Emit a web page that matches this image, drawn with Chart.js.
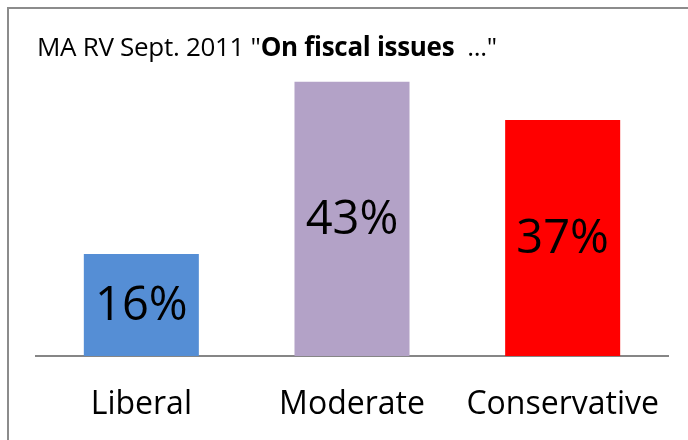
<!DOCTYPE html>
<html>
<head>
<meta charset="utf-8">
<script src="https://cdn.jsdelivr.net/npm/chart.js@4/dist/chart.umd.min.js"></script>
<style>
  html, body { margin: 0; padding: 0; background: #fff; overflow: hidden; }
  #frame {
    position: absolute; left: 7px; top: 7px; width: 700px; height: 450px;
    border-left: 2px solid #8c8c8c; border-top: 2px solid #8c8c8c;
  }
  #title {
    position: absolute; left: 37px; top: 28px;
    font-family: "Open Sans", sans-serif; font-size: 26px; color: #000;
    white-space: pre; letter-spacing: -0.3px;
  }
  #wrap { position: absolute; left: 0; top: 0; width: 688px; height: 440px; }
</style>
</head>
<body>
<div id="frame"></div>
<div id="wrap"><canvas id="chart"></canvas></div>
<div id="title">MA RV Sept. 2011 "<b>On fiscal issues  </b>..."</div>
<script>
const categories = ['Liberal', 'Moderate', 'Conservative'];
const shares = [16, 43, 37];
const barColors = ['#558ED5', '#B3A2C7', '#FF0000'];

// percentage printed in the middle of each bar
const barLabels = {
  id: 'barLabels',
  afterDatasetsDraw(chart) {
    const ctx = chart.ctx;
    const meta = chart.getDatasetMeta(0);
    ctx.save();
    ctx.font = '47px "Open Sans", sans-serif';
    ctx.fillStyle = '#000';
    ctx.textAlign = 'center';
    ctx.textBaseline = 'middle';
    meta.data.forEach((bar, i) => {
      const v = chart.data.datasets[0].data[i];
      ctx.fillText(v + '%', bar.x, (bar.y + bar.base) / 2 + 2);
    });
    ctx.restore();
  }
};

new Chart(document.getElementById('chart'), {
  type: 'bar',
  data: {
    labels: categories,
    datasets: [{
      data: shares,
      backgroundColor: barColors,
      barPercentage: 0.546,
      categoryPercentage: 1
    }]
  },
  options: {
    responsive: true,
    maintainAspectRatio: false,
    animation: false,
    layout: { padding: { left: 36, right: 20, top: 69, bottom: 0 } },
    plugins: { legend: { display: false }, tooltip: { enabled: false } },
    scales: {
      x: {
        grid: { display: false, drawTicks: false },
        border: { color: '#868686', width: 2 },
        ticks: {
          color: '#000',
          padding: 30,
          font: { family: '"Open Sans", sans-serif', size: 32 }
        },
        afterFit(scale) {
          scale.height = 84;
          // labels fit inside the plot width, no extra side padding
          scale.paddingLeft = 0;
          scale.paddingRight = 0;
        }
      },
      y: { display: false, min: 0, max: 45 }
    }
  },
  plugins: [barLabels]
});
</script>
</body>
</html>
